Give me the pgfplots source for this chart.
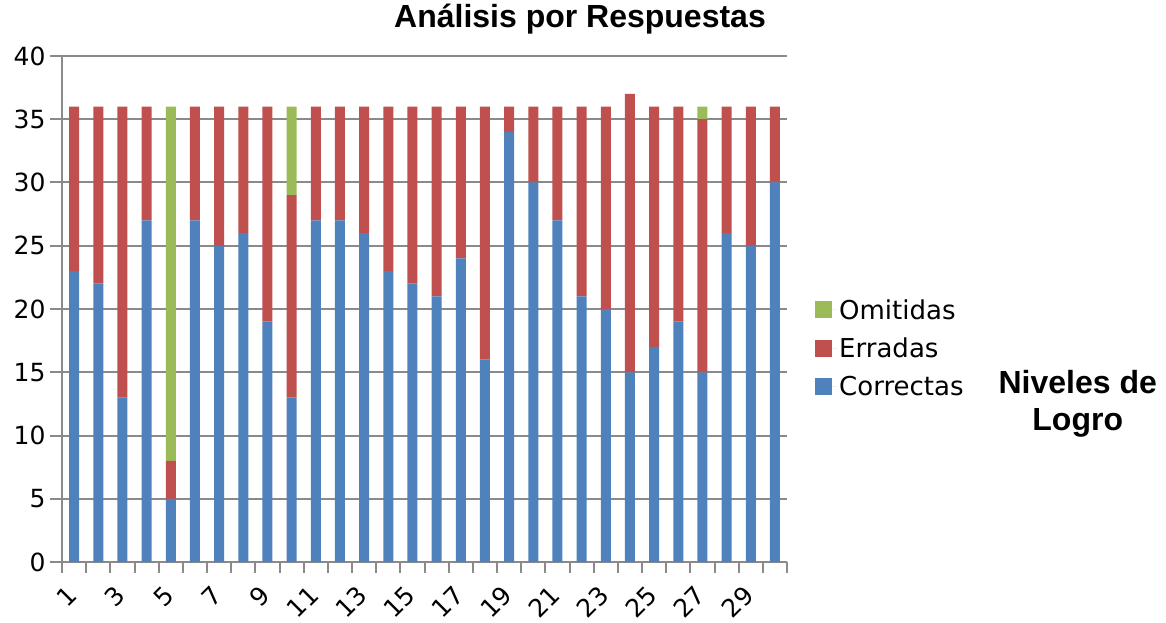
\documentclass[border=0pt]{standalone}
\usepackage{pgfplots}
\pgfplotsset{compat=1.18}
\usepackage{pgfplotstable}
\usepackage{fontspec}
\setmainfont{DejaVu Sans}
\newfontfamily\arialfont{Liberation Sans}
\definecolor{cblue}{HTML}{4F81BD}
\definecolor{cred}{HTML}{C0504D}
\definecolor{cgreen}{HTML}{9BBB59}
\definecolor{gridgray}{HTML}{8A8A8A}

\pgfplotstableread{
x C E O
1 23 13 0
2 22 14 0
3 13 23 0
4 27 9 0
5 5 3 28
6 27 9 0
7 25 11 0
8 26 10 0
9 19 17 0
10 13 16 7
11 27 9 0
12 27 9 0
13 26 10 0
14 23 13 0
15 22 14 0
16 21 15 0
17 24 12 0
18 16 20 0
19 34 2 0
20 30 6 0
21 27 9 0
22 21 15 0
23 20 16 0
24 15 22 0
25 17 19 0
26 19 17 0
27 15 20 1
28 26 10 0
29 25 11 0
30 30 6 0
}\datatable

\begin{document}
\begin{tikzpicture}
\useasboundingbox (0,0) rectangle (1166pt,622pt);
\begin{axis}[
  at={(62pt,60pt)}, anchor=south west,
  width=725pt, height=506pt, scale only axis,
  ybar stacked, bar width=10pt,
  xmin=0.5, xmax=30.5, ymin=0, ymax=40,
  ytick={0,5,...,40},
  xtick={1,3,...,29},
  minor xtick={0.5,1.5,...,30.5},
  axis x line*=bottom, axis y line*=left,
  axis line style={draw=gridgray, line width=2pt},
  ymajorgrids, grid style={draw=gridgray, line width=2pt},
  tick align=outside,
  major tick length=12pt, minor tick length=11pt,
  tick style={draw=gridgray, line width=2pt},
  xtick style={draw=none},
  minor x tick style={draw=gridgray, line width=2pt},
  /pgf/number format/assume math mode=true,
  ticklabel style={font=\fontsize{25}{30}\selectfont},
  yticklabel style={xshift=-1pt},
  xticklabel style={rotate=45, anchor=east, xshift=-9.5pt, yshift=-10.5pt},
  title={Análisis por Respuestas},
  title style={at={(0.7145,1.0445)}, anchor=base, font=\arialfont\bfseries\fontsize{32}{38}\selectfont},
  xlabel={Niveles de\\Logro},
  xlabel style={at={(1.401,0.312)}, anchor=center, align=center, font=\arialfont\bfseries\fontsize{32}{37}\selectfont},
  legend style={at={(1.0386,0.423)}, anchor=west, draw=none, fill=none, font=\fontsize{26}{31}\selectfont, row sep=13pt, inner sep=0pt, cells={anchor=west}},
  reverse legend,
  legend image code/.code={\fill[#1] (0pt,-8.5pt) rectangle (17pt,8.5pt); \path (0pt,0pt) -- (22pt,0pt);},
]
\addplot[fill=cblue, draw=none] table[x=x, y=C] {\datatable};
\addlegendentry{Correctas}
\addplot[fill=cred, draw=none] table[x=x, y=E] {\datatable};
\addlegendentry{Erradas}
\addplot[fill=cgreen, draw=none] table[x=x, y=O] {\datatable};
\addlegendentry{Omitidas}
\end{axis}
\end{tikzpicture}
\end{document}
